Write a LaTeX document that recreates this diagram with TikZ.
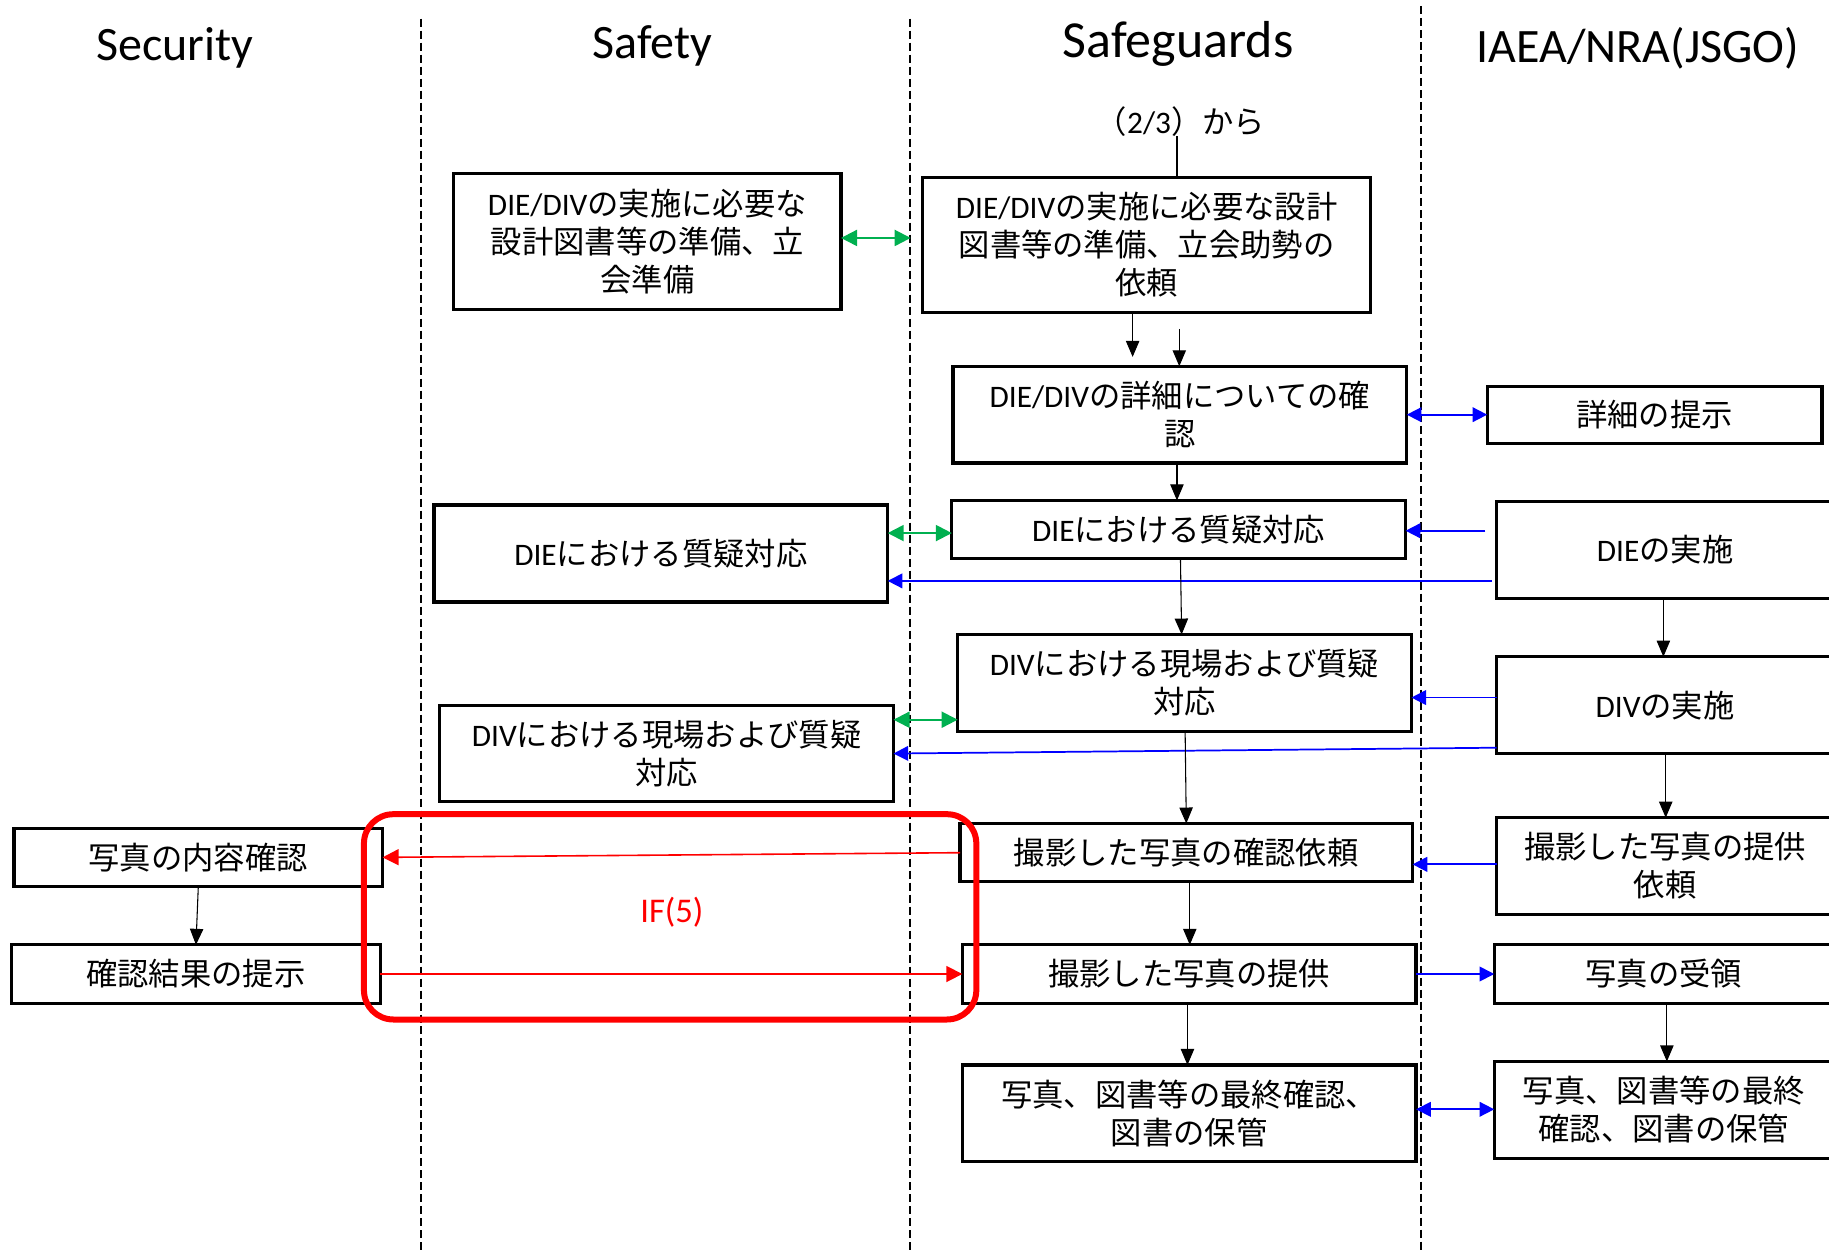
\documentclass[tikz,border=0pt]{standalone}
\usepackage{fontspec}
\setmainfont{Carlito}
\newfontfamily\jp{Noto Sans CJK JP}
\usetikzlibrary{arrows.meta}
\newcommand\J[1]{{\jp #1}}
\definecolor{sgreen}{RGB}{0,176,80}
\tikzset{
  box/.style={draw, line width=2.4pt, inner sep=0pt, outer sep=0pt, align=center,
    font=\fontsize{23.5}{28.5}\selectfont},
  hdr/.style={font=\fontsize{36}{40}\selectfont, inner sep=0pt},
  lane/.style={line width=1.7pt, dash pattern=on 6pt off 3pt},
  arr/.style={-{Triangle[length=12pt,width=10pt]}, line width=0.8pt},
  barr/.style={-{Triangle[length=11pt,width=11pt]}, line width=1.3pt, blue},
  bdarr/.style={{Triangle[length=11pt,width=11pt]}-{Triangle[length=11pt,width=11pt]}, line width=1.3pt, blue},
  gdarr/.style={{Triangle[length=12pt,width=12pt]}-{Triangle[length=12pt,width=12pt]}, line width=1.5pt, sgreen},
  rarr/.style={-{Triangle[length=12pt,width=12pt]}, line width=1.2pt, red},
}
\begin{document}
\begin{tikzpicture}[x=0.875pt,y=-0.875pt]
\clip (0,0) rectangle (1568,1073);
\fill[white] (0,0) rectangle (1568,1073);

% lanes
\coordinate (l1t) at (361,16); \coordinate (l1b) at (361,1073);
\coordinate (l2t) at (780,16); \coordinate (l2b) at (780,1073);
\coordinate (l3t) at (1218,5); \coordinate (l3b) at (1218,1073);
\draw[lane] (l1t) -- (l1b);
\draw[lane] (l2t) -- (l2b);
\draw[lane] (l3t) -- (l3b);

% headers
\node[hdr] (h1) at (150,41) {Security};
\node[hdr] (h2) at (559,39) {Safety};
\node[hdr, font=\fontsize{39}{44}\selectfont] (h3) at (1010,38) {Safeguards};
\node[hdr] (h4) at (1404,41) {IAEA/NRA(JSGO)};

% label from previous page
\node[font=\fontsize{23.5}{28}\selectfont, inner sep=0pt] (lbl) at (1012,104) {\J{（}2/3\J{）から}};

% boxes
\node[box, minimum width={332*0.875pt}, minimum height={116*0.875pt}] (A) at (555,207)
  {DIE/DIV\J{の実施に必要な}\\\J{設計図書等の準備、立}\\\J{会準備}};
\node[box, minimum width={384*0.875pt}, minimum height={116*0.875pt}] (B) at (983,210)
  {DIE/DIV\J{の実施に必要な設計}\\\J{図書等の準備、立会助勢の}\\\J{依頼}};
\node[box, minimum width={389*0.875pt}, minimum height={83*0.875pt}] (C) at (1011.5,355.5)
  {DIE/DIV\J{の詳細についての確}\\\J{認}};
\node[box, minimum width={287*0.875pt}, minimum height={49*0.875pt}] (D) at (1418.5,355.5)
  {\J{詳細の提示}};
\node[box, minimum width={389*0.875pt}, minimum height={50*0.875pt}] (E) at (1010.5,454)
  {DIE\J{における質疑対応}};
\node[box, minimum width={389*0.875pt}, minimum height={83*0.875pt}] (F) at (566.5,474.5)
  {DIE\J{における質疑対応}};
\node[box, minimum width={289*0.875pt}, minimum height={83*0.875pt}] (G) at (1427.5,471.5)
  {DIE\J{の実施}};
\node[box, minimum width={389*0.875pt}, minimum height={83*0.875pt}] (I) at (1015.5,585.5)
  {DIV\J{における現場および質疑}\\\J{対応}};
\node[box, minimum width={289*0.875pt}, minimum height={83*0.875pt}] (H) at (1427.5,604.5)
  {DIV\J{の実施}};
\node[box, minimum width={389*0.875pt}, minimum height={82*0.875pt}] (Jb) at (571.5,646)
  {DIV\J{における現場および質疑}\\\J{対応}};
\node[box, minimum width={388*0.875pt}, minimum height={50*0.875pt}] (K) at (1017,731)
  {\J{撮影した写真の確認依頼}};
\node[box, minimum width={289*0.875pt}, minimum height={83*0.875pt}] (L) at (1427.5,742.5)
  {\J{撮影した写真の提供}\\\J{依頼}};
\node[box, minimum width={316*0.875pt}, minimum height={50*0.875pt}] (M) at (170,735)
  {\J{写真の内容確認}};
\node[box, minimum width={316*0.875pt}, minimum height={50*0.875pt}] (N) at (168,835)
  {\J{確認結果の提示}};
\node[box, minimum width={389*0.875pt}, minimum height={50*0.875pt}] (O) at (1019.5,835)
  {\J{撮影した写真の提供}};
\node[box, minimum width={291*0.875pt}, minimum height={50*0.875pt}] (P) at (1426.5,835)
  {\J{写真の受領}};
\node[box, minimum width={389*0.875pt}, minimum height={83*0.875pt}] (Q) at (1019.5,954.5)
  {\J{写真、図書等の最終確認、}\\\J{図書の保管}};
\node[box, minimum width={291*0.875pt}, minimum height={83*0.875pt}] (R) at (1426.5,951.5)
  {\J{写真、図書等の最終}\\\J{確認、図書の保管}};

% IF(5) frame
\node[draw=red, line width=4.5pt, rounded corners=22pt, inner sep=0pt,
  minimum width={525*0.875pt}, minimum height={176*0.875pt}] (ifbox) at (574.5,786) {};
\node[text=red, font=\fontsize{26}{30}\selectfont, inner sep=0pt] (iftxt) at (576,782) {IF(5)};

% connectors
\draw[line width=0.8pt] (lbl.south -| 1009,0) -- (B.north -| 1009,0);
\coordinate (c1) at (971,306);
\coordinate (c2) at (1011,282);
\draw[arr] (B.south -| c1) -- (c1);
\draw[arr] (c2) -- (C.north -| c2);
\draw[gdarr, shorten >=9pt] (A.east |- 0,204) -- (B.west |- 0,204);
\draw[bdarr] (C.east) -- (D.west);
\draw[arr] (C.south -| 1009,0) -- (E.north -| 1009,0);
\draw[gdarr] (F.east |- 0,457) -- (E.west |- 0,457);
\draw[barr, shorten <=8.5pt] (G.west |- 0,455) -- (E.east |- 0,455);
\draw[barr, shorten <=3.5pt] (G.west |- 0,498) -- (F.east |- 0,498);
\draw[arr] (G.south -| 1426,0) -- (H.north -| 1426,0);
\draw[arr] (E.south -| 1012,0) -- (I.north -| 1013,0);
\draw[barr] (H.west |- 0,598) -- (I.east |- 0,598);
\draw[gdarr] (Jb.east |- 0,617) -- (I.west |- 0,617);
\draw[barr] (H.west |- 0,641) -- (Jb.east |- 0,646);
\draw[arr] (I.south -| 1016,0) -- (K.north -| 1017,0);
\draw[arr] (H.south -| 1428,0) -- (L.north -| 1428,0);
\draw[barr] (L.west |- 0,741) -- (K.east |- 0,741);
\draw[rarr] (K.west) -- (M.east);
\draw[arr] (M.south -| 170,0) -- (N.north -| 168,0);
\draw[arr] (K.south -| 1020,0) -- (O.north -| 1020,0);
\draw[rarr] (N.east) -- (O.west);
\draw[barr] (O.east) -- (P.west);
\draw[arr] (O.south -| 1018,0) -- (Q.north -| 1018,0);
\draw[arr] (P.south -| 1429,0) -- (R.north -| 1429,0);
\draw[bdarr] (Q.east |- 0,951) -- (R.west |- 0,951);
\end{tikzpicture}
\end{document}
